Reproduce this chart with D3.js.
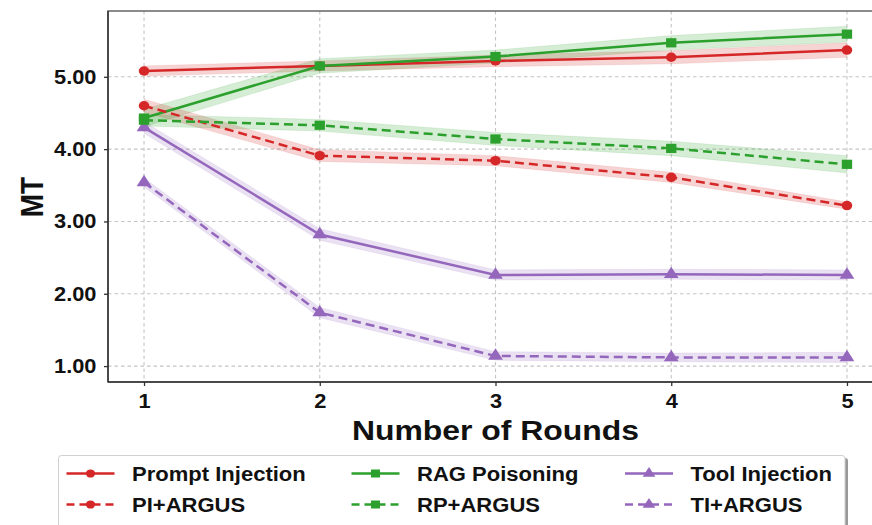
<!DOCTYPE html>
<html><head><meta charset="utf-8">
<script src="https://cdn.jsdelivr.net/npm/d3@7"></script>
<style>body{margin:0;background:#fff}svg{display:block}</style>
</head><body>
<script>
const rounds = [1, 2, 3, 4, 5];
const yTicks = [1, 2, 3, 4, 5];
const promptInjection = [5.08, 5.15, 5.22, 5.27, 5.37];
const ragPoisoning = [4.43, 5.15, 5.28, 5.47, 5.59];
const toolInjection = [4.30, 2.82, 2.26, 2.27, 2.26];
const piArgus = [4.60, 3.91, 3.84, 3.61, 3.22];
const rpArgus = [4.40, 4.33, 4.14, 4.01, 3.79];
const tiArgus = [3.54, 1.74, 1.14, 1.12, 1.12];
const piStd = [0.07, 0.07, 0.08, 0.09, 0.10];
const rpStd = [0.12, 0.10, 0.09, 0.10, 0.11];
const tiStd = [0.08, 0.08, 0.07, 0.07, 0.07];
const piaStd = [0.09, 0.08, 0.07, 0.07, 0.05];
const rpaStd = [0.08, 0.08, 0.09, 0.10, 0.12];
const tiaStd = [0.06, 0.07, 0.06, 0.06, 0.07];

const series = [
  {name:"Prompt Injection", vals:promptInjection, sd:piStd, color:"#d62728", dash:null, marker:"circle"},
  {name:"RAG Poisoning", vals:ragPoisoning, sd:rpStd, color:"#2ca02c", dash:null, marker:"square"},
  {name:"Tool Injection", vals:toolInjection, sd:tiStd, color:"#9467bd", dash:null, marker:"triangle"},
  {name:"PI+ARGUS", vals:piArgus, sd:piaStd, color:"#d62728", dash:"9,5", marker:"circle"},
  {name:"RP+ARGUS", vals:rpArgus, sd:rpaStd, color:"#2ca02c", dash:"9,5", marker:"square"},
  {name:"TI+ARGUS", vals:tiArgus, sd:tiaStd, color:"#9467bd", dash:"9,5", marker:"triangle"}
];

const W = 872, H = 525;
const L = 108, R = 883, T = 11, B = 382;
const SX = 1.12;
const FONT = "Liberation Sans, Arial, sans-serif";
const svg = d3.select("body").append("svg").attr("width", W).attr("height", H);
const x = d3.scaleLinear().domain([0.795, 5.205]).range([L, R]);
const y = d3.scaleLinear().domain([0.78, 5.91]).range([B, T]);

// grid
const g = svg.append("g");
g.selectAll(".gx").data(rounds).join("line")
  .attr("x1", d=>x(d)).attr("x2", d=>x(d)).attr("y1", T).attr("y2", B)
  .attr("stroke", "#c4c4c4").attr("stroke-width", 1.1).attr("stroke-dasharray", "3.5,3");
g.selectAll(".gy").data(yTicks).join("line")
  .attr("x1", L).attr("x2", R).attr("y1", d=>y(d)).attr("y2", d=>y(d))
  .attr("stroke", "#c4c4c4").attr("stroke-width", 1.1).attr("stroke-dasharray", "3.5,3");

const sym = {circle: d3.symbolCircle, square: d3.symbolSquare, triangle: d3.symbolTriangle};
const symSize = {circle: 70, square: 85, triangle: 75};

// bands
series.forEach(s => {
  const area = d3.area().x((d,i)=>x(rounds[i])).y0((d,i)=>y(d - s.sd[i])).y1((d,i)=>y(d + s.sd[i]));
  svg.append("path").datum(s.vals).attr("d", area).attr("fill", s.color).attr("fill-opacity", 0.2)
    .attr("stroke", s.color).attr("stroke-opacity", 0.1);
});
// lines
series.forEach(s => {
  const line = d3.line().x((d,i)=>x(rounds[i])).y(d=>y(d));
  svg.append("path").datum(s.vals).attr("d", line).attr("fill", "none").attr("stroke", s.color)
    .attr("stroke-width", 2.5).attr("stroke-dasharray", s.dash);
  svg.selectAll(null).data(s.vals).join("path")
    .attr("transform", (d,i)=>`translate(${x(rounds[i])},${y(d)}) scale(${SX},1)`)
    .attr("d", d3.symbol().type(sym[s.marker]).size(symSize[s.marker]))
    .attr("fill", s.color);
});

// spines
svg.append("rect").attr("x", L).attr("y", T).attr("width", R-L).attr("height", B-T)
  .attr("fill", "none").attr("stroke", "#666").attr("stroke-width", 1.5);
svg.append("line").attr("x1", L).attr("x2", R).attr("y1", B).attr("y2", B).attr("stroke", "#333").attr("stroke-width", 1.5);
svg.append("line").attr("x1", L).attr("x2", L).attr("y1", T).attr("y2", B).attr("stroke", "#333").attr("stroke-width", 1.5);

// axes
const xAxis = d3.axisBottom(x).tickValues(rounds).tickFormat(d3.format("d")).tickSize(4).tickPadding(8);
const yAxis = d3.axisLeft(y).tickValues(yTicks).tickFormat(d3.format(".2f")).tickSize(4).tickPadding(8);
const gx = svg.append("g").attr("transform", `translate(0,${B})`).call(xAxis);
const gy = svg.append("g").attr("transform", `translate(${L},0)`).call(yAxis);
[gx, gy].forEach(a => {
  a.select(".domain").remove();
  a.selectAll(".tick line").attr("stroke", "#333").attr("stroke-width", 1.3);
  a.selectAll("text").attr("fill", "#111").style("font-family", FONT)
    .style("font-weight", "bold").style("font-size", "19.5px");
});
gy.selectAll("text").attr("x", -11.5 / SX).attr("transform", `scale(${SX},1)`);
gx.selectAll("text").attr("transform", `scale(${SX},1)`).attr("y", 12);

svg.append("text").attr("transform", `translate(${(x(1)+x(5))/2},440) scale(${SX+0.02},1)`).attr("text-anchor", "middle")
  .style("font-family", FONT).style("font-weight", "bold").style("font-size", "28px").attr("fill", "#111")
  .text("Number of Rounds");
svg.append("text").attr("transform", `translate(43,${(T+B)/2 + 0.5}) rotate(-90) scale(1,${SX})`).attr("text-anchor", "middle")
  .style("font-family", FONT).style("font-weight", "bold").style("font-size", "28px").attr("fill", "#111")
  .text("MT");

// legend
const lg = svg.append("g");
lg.append("rect").attr("x", 61).attr("y", 458).attr("width", 787).attr("height", 80).attr("rx", 3)
  .attr("fill", "#999");
lg.append("rect").attr("x", 58.5).attr("y", 455.5).attr("width", 786.5).attr("height", 80).attr("rx", 3)
  .attr("fill", "#fff").attr("stroke", "#d0d0d0").attr("stroke-width", 1);
const colX = [66.5, 351.5, 625];
const rowY = [473.5, 504.5];
series.forEach((s, i) => {
  const cx = colX[i % 3], cy = rowY[Math.floor(i / 3)];
  lg.append("line").attr("x1", cx).attr("x2", cx+48).attr("y1", cy).attr("y2", cy)
    .attr("stroke", s.color).attr("stroke-width", 2.5).attr("stroke-dasharray", s.dash ? "8,5" : null);
  lg.append("path").attr("transform", `translate(${cx+24},${cy}) scale(${SX},1)`)
    .attr("d", d3.symbol().type(sym[s.marker]).size(symSize[s.marker]*0.75)).attr("fill", s.color);
  lg.append("text").attr("transform", `translate(${cx+65.5},${cy+7}) scale(${SX+0.01},1)`)
    .style("font-family", FONT).style("font-weight", "bold").style("font-size", "19.5px").attr("fill", "#111")
    .text(s.name);
});
</script>
</body></html>
